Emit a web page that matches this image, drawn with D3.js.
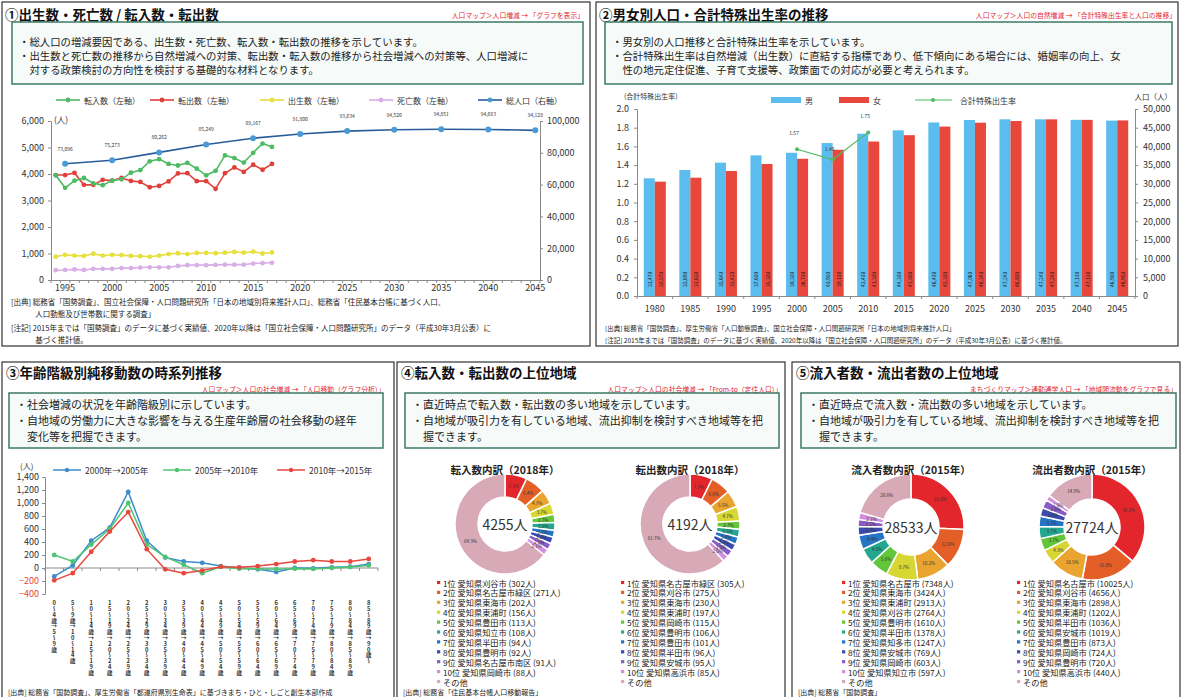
<!doctype html>
<html lang="ja">
<head>
  <meta charset="utf-8">
  <title>人口の推移と移動</title>
  <script src="https://d3js.org/d3.v7.min.js"></script>
  <style>
    body { margin: 0; background: #fff; }
    text { font-family: "Noto Sans CJK JP", "Noto Sans", sans-serif; }
  </style>
</head>
<body>
<svg id="chart" width="1182" height="697"></svg>
<script>
// ---------- ① 出生数・死亡数 / 転入数・転出数 ----------
var flowYears = [1994,1995,1996,1997,1998,1999,2000,2001,2002,2003,2004,2005,2006,2007,2008,2009,2010,2011,2012,2013,2014,2015,2016,2017];
var inMoves  = [3950,3480,3750,3850,3650,3580,3750,3800,4050,4150,4480,4560,4380,4320,4420,4200,3950,4120,4700,4600,4430,4800,5150,5020];
var outMoves = [3960,3960,4040,3590,3590,3780,3750,3850,3740,3700,3500,3550,3720,4020,4030,3730,3730,3440,4030,4250,4080,4350,4160,4380];
var births   = [880,950,920,910,990,920,950,940,910,900,880,920,980,1010,980,1020,1020,1010,1030,1060,1030,1070,1000,1040];
var deaths   = [370,380,400,380,420,420,420,450,450,470,480,480,480,530,560,560,560,570,580,580,580,620,640,650];
var popYears = [1995,2000,2005,2010,2015,2020,2025,2030,2035,2040,2045];
var totalPop = [73096,75273,80262,85249,89167,91800,93634,94520,94851,94683,94128];
var legend1  = ["転入数（左軸）","転出数（左軸）","出生数（左軸）","死亡数（左軸）","総人口（右軸）"];

// ---------- ② 男女別人口・合計特殊出生率 ----------
var barYears = [1980,1985,1990,1995,2000,2005,2010,2015,2020,2025,2030,2035,2040,2045];
var male     = [31470,33690,35640,37600,38300,40900,43400,44300,46400,47060,47240,47240,47100,46900];
var female   = [30570,31630,33420,35300,36700,39100,41300,43000,45300,46340,46800,47240,47100,46950];
var tfrYears = [2000,2005,2010];
var tfr      = [1.57,1.46,1.75];

// ---------- ③ 年齢階級別純移動数 ----------
var ageGroups = ["0～4歳→5～9歳","5～9歳→10～14歳","10～14歳→15～19歳","15～19歳→20～24歳","20～24歳→25～29歳",
  "25～29歳→30～34歳","30～34歳→35～39歳","35～39歳→40～44歳","40～44歳→45～49歳","45～49歳→50～54歳",
  "50～54歳→55～59歳","55～59歳→60～64歳","60～64歳→65～69歳","65～69歳→70～74歳","70～74歳→75～79歳",
  "75～79歳→80～84歳","80～84歳→85～89歳","85～89歳→90歳～"];
var mig0005 = [-130,40,420,620,1170,420,160,100,80,30,0,-20,-60,0,-5,10,20,60];
var mig0510 = [200,100,360,600,1000,360,170,50,-80,20,-10,-10,-20,-10,-15,0,15,40];
var mig1015 = [-190,-80,250,560,860,290,-20,-80,-40,20,10,30,60,100,120,100,100,140];
var migLabels = ["2000年→2005年","2005年→2010年","2010年→2015年"];

// ---------- ④ 転入数・転出数 ----------
var inTotal  = 4255;
var inNames  = ["愛知県刈谷市","愛知県名古屋市緑区","愛知県東海市","愛知県東浦町","愛知県豊田市","愛知県知立市","愛知県半田市","愛知県豊明市","愛知県名古屋市南区","愛知県岡崎市"];
var inCounts = [302,271,202,156,113,108,94,92,91,88];
var outTotal  = 4192;
var outNames  = ["愛知県名古屋市緑区","愛知県刈谷市","愛知県東海市","愛知県東浦町","愛知県岡崎市","愛知県豊明市","愛知県豊田市","愛知県半田市","愛知県安城市","愛知県高浜市"];
var outCounts = [305,275,230,197,115,106,101,96,95,85];

// ---------- ⑤ 流入者数・流出者数 ----------
var inflowTotal  = 28533;
var inflowNames  = ["愛知県名古屋市","愛知県東海市","愛知県東浦町","愛知県刈谷市","愛知県豊明市","愛知県半田市","愛知県知多市","愛知県安城市","愛知県岡崎市","愛知県知立市"];
var inflowCounts = [7348,3424,2913,2764,1610,1378,1247,769,603,597];
var outflowTotal  = 27724;
var outflowNames  = ["愛知県名古屋市","愛知県刈谷市","愛知県東海市","愛知県東浦町","愛知県半田市","愛知県安城市","愛知県豊田市","愛知県岡崎市","愛知県豊明市","愛知県高浜市"];
var outflowCounts = [10025,4656,2898,1202,1036,1019,873,724,720,440];

var pieColors = ["#e3262b","#e45f27","#e9a52f","#d8d633","#63c63a","#23a88f","#2675c4","#3a4bb0","#8a5cc8","#d48ee0","#d8a9b6"];

var svg = d3.select("#chart");
var fmt = d3.format(",");

function box(x, y, w, h) {
  svg.append("rect").attr("x", x).attr("y", y).attr("width", w).attr("height", h)
    .attr("fill", "none").attr("stroke", "#333").attr("stroke-width", 1.2);
}
function title(x, y, t, fs) {
  svg.append("text").attr("x", x).attr("y", y).attr("dominant-baseline", "central")
    .attr("font-size", fs).attr("font-weight", "bold").attr("fill", "#111").text(t);
}
function link(x, y, t) {
  svg.append("text").attr("x", x).attr("y", y).attr("dominant-baseline", "central")
    .attr("text-anchor", "end").attr("font-size", 6.8).attr("fill", "#e2242b").text(t);
}
function desc(x, y, w, h, lines, fs, y0, dy) {
  svg.append("rect").attr("x", x).attr("y", y).attr("width", w).attr("height", h)
    .attr("fill", "#f6fbf9").attr("stroke", "#3d7a66").attr("stroke-width", 1.5);
  lines.forEach(function(l, i) {
    svg.append("text").attr("x", x + 7).attr("y", y0 + i * dy).attr("dominant-baseline", "central")
      .attr("font-size", fs).attr("fill", "#222").text(l);
  });
}
function notes(x, y0, dy, lines, fs) {
  lines.forEach(function(l, i) {
    svg.append("text").attr("x", x).attr("y", y0 + i * dy).attr("dominant-baseline", "central")
      .attr("font-size", fs).attr("fill", "#222").text(l);
  });
}
function styleAxis(g, fs) {
  g.select(".domain").attr("stroke", "#8a8a8a");
  g.selectAll(".tick line").attr("stroke", "#8a8a8a");
  g.selectAll(".tick text").attr("fill", "#333").attr("font-size", fs);
}

// ================= panel 1 =================
box(2, 2, 588, 344);
title(5, 14, "①出生数・死亡数 / 転入数・転出数", 13.5);
link(584, 15, "人口マップ＞人口増減 → 「グラフを表示」");
desc(12, 22, 571, 62, [
  "・総人口の増減要因である、出生数・死亡数、転入数・転出数の推移を示しています。",
  "・出生数と死亡数の推移から自然増減への対策、転出数・転入数の推移から社会増減への対策等、人口増減に",
  "　対する政策検討の方向性を検討する基礎的な材料となります。"
], 10.4, 41, 14);

var x1 = d3.scaleBand().domain(d3.range(1994, 2046)).range([51, 540]);
var yL1 = d3.scaleLinear().domain([0, 6000]).range([280, 121]);
var yR1 = d3.scaleLinear().domain([0, 100000]).range([280, 121]);
function cx1(yr) { return x1(yr) + x1.bandwidth() / 2; }
var g1 = svg.append("g");

var ax = g1.append("g").attr("transform", "translate(51,0)")
  .call(d3.axisLeft(yL1).tickValues(d3.range(0, 6001, 1000)).tickFormat(fmt).tickSize(3).tickSizeOuter(0).tickPadding(4));
styleAxis(ax, 9);
ax = g1.append("g").attr("transform", "translate(540,0)")
  .call(d3.axisRight(yR1).tickValues(d3.range(0, 100001, 20000)).tickFormat(fmt).tickSize(3).tickSizeOuter(0).tickPadding(4));
styleAxis(ax, 9);
ax = g1.append("g").attr("transform", "translate(0,280)")
  .call(d3.axisBottom(x1).tickValues(d3.range(1995, 2046, 5)).tickSize(0).tickPadding(5));
styleAxis(ax, 9);
g1.selectAll(".yt1").data(d3.range(0, 53)).enter().append("line")
  .attr("x1", function(i) { return 51 + i * x1.step(); }).attr("x2", function(i) { return 51 + i * x1.step(); })
  .attr("y1", 280).attr("y2", 283).attr("stroke", "#8a8a8a");
g1.append("text").attr("x", 54).attr("y", 119).attr("font-size", 8.5).attr("fill", "#333")
  .attr("dominant-baseline", "central").text("(人)");

var series1 = [
  { values: deaths, color: "#d9aee6" },
  { values: births, color: "#e6e03c" },
  { values: outMoves, color: "#e0403a" },
  { values: inMoves, color: "#4dbb63" }
];
series1.forEach(function(s) {
  var pts = flowYears.map(function(yr, i) { return [cx1(yr), yL1(s.values[i])]; });
  g1.append("path").attr("d", d3.line()(pts)).attr("fill", "none").attr("stroke", s.color).attr("stroke-width", 1.6);
  g1.selectAll(null).data(pts).enter().append("circle")
    .attr("cx", function(d) { return d[0]; }).attr("cy", function(d) { return d[1]; })
    .attr("r", 2.4).attr("fill", s.color);
});
var popPts = popYears.map(function(yr, i) { return [cx1(yr), yR1(totalPop[i])]; });
g1.append("path").attr("d", d3.line()(popPts)).attr("fill", "none").attr("stroke", "#2a5c9a").attr("stroke-width", 1.6);
g1.selectAll(null).data(popPts).enter().append("circle")
  .attr("cx", function(d) { return d[0]; }).attr("cy", function(d) { return d[1]; })
  .attr("r", 3).attr("fill", "#4a9ad8");
g1.selectAll(null).data(popPts).enter().append("text")
  .attr("x", function(d) { return d[0]; }).attr("y", function(d) { return d[1] - 13; })
  .attr("text-anchor", "middle").attr("font-size", 5).attr("fill", "#333")
  .text(function(d, i) { return fmt(totalPop[i]); });

var leg1Colors = ["#4dbb63", "#e0403a", "#e6e03c", "#d9aee6", "#4a9ad8"];
var leg1X = [56, 150, 260, 369, 478];
legend1.forEach(function(t, i) {
  var lx = leg1X[i];
  g1.append("line").attr("x1", lx).attr("x2", lx + 24).attr("y1", 100).attr("y2", 100)
    .attr("stroke", i === 4 ? "#2a5c9a" : leg1Colors[i]).attr("stroke-width", 1.6);
  g1.append("circle").attr("cx", lx + 12).attr("cy", 100).attr("r", 2.4).attr("fill", leg1Colors[i]);
  g1.append("text").attr("x", lx + 28).attr("y", 100).attr("dominant-baseline", "central")
    .attr("font-size", 8).attr("fill", "#333").text(t);
});

notes(11, 301, 12, [
  "[出典] 総務省「国勢調査」、国立社会保障・人口問題研究所「日本の地域別将来推計人口」、総務省「住民基本台帳に基づく人口、",
  "　　　 人口動態及び世帯数に関する調査」"
], 7.5);
notes(11, 327, 12.5, [
  "[注記] 2015年までは「国勢調査」のデータに基づく実績値、2020年以降は「国立社会保障・人口問題研究所」のデータ（平成30年3月公表）に",
  "　　　 基づく推計値。"
], 7.5);

// ================= panel 2 =================
box(596, 2, 582, 344);
title(599, 14, "②男女別人口・合計特殊出生率の推移", 13.5);
link(1176, 15, "人口マップ＞人口の自然増減 → 「合計特殊出生率と人口の推移」");
desc(605, 22, 567, 62, [
  "・男女別の人口推移と合計特殊出生率を示しています。",
  "・合計特殊出生率は自然増減（出生数）に直結する指標であり、低下傾向にある場合には、婚姻率の向上、女",
  "　性の地元定住促進、子育て支援等、政策面での対応が必要と考えられます。"
], 10.4, 41, 14);

var x2 = d3.scaleBand().domain(barYears).range([637, 1135]).paddingInner(0.38).paddingOuter(0.19);
var xs2 = d3.scaleBand().domain(["男", "女"]).range([0, x2.bandwidth()]);
var yL2 = d3.scaleLinear().domain([0, 2]).range([296, 109]);
var yR2 = d3.scaleLinear().domain([0, 50000]).range([296, 109]);
var g2 = svg.append("g");

var sexes = [
  { key: "男", values: male, color: "#5bbcee" },
  { key: "女", values: female, color: "#e8473c" }
];
sexes.forEach(function(s) {
  g2.selectAll(null).data(barYears).enter().append("rect")
    .attr("x", function(d) { return x2(d) + xs2(s.key); })
    .attr("y", function(d, i) { return yR2(s.values[i]); })
    .attr("width", xs2.bandwidth())
    .attr("height", function(d, i) { return 296 - yR2(s.values[i]); })
    .attr("fill", s.color);
  g2.selectAll(null).data(barYears).enter().append("text")
    .attr("transform", function(d) {
      return "translate(" + (x2(d) + xs2(s.key) + xs2.bandwidth() / 2) + ",287) rotate(-90)";
    })
    .attr("dominant-baseline", "central").attr("font-size", 5).attr("fill", "#1a1a1a")
    .text(function(d, i) { return fmt(s.values[i]); });
});

ax = g2.append("g").attr("transform", "translate(637,0)")
  .call(d3.axisLeft(yL2).tickValues(d3.range(0, 11).map(function(i) { return i * 0.2; }))
    .tickFormat(d3.format(".1f")).tickSize(3).tickSizeOuter(0).tickPadding(5));
styleAxis(ax, 9);
ax = g2.append("g").attr("transform", "translate(1135,0)")
  .call(d3.axisRight(yR2).tickValues(d3.range(0, 50001, 5000)).tickFormat(fmt).tickSize(3).tickSizeOuter(0).tickPadding(5));
styleAxis(ax, 9);
ax = g2.append("g").attr("transform", "translate(0,296)")
  .call(d3.axisBottom(x2).tickSize(0).tickPadding(10));
styleAxis(ax, 9);
g2.selectAll(null).data(d3.range(0, 15)).enter().append("line")
  .attr("x1", function(i) { return 637 + i * x2.step(); }).attr("x2", function(i) { return 637 + i * x2.step(); })
  .attr("y1", 296).attr("y2", 299).attr("stroke", "#8a8a8a");

var tfrPts = tfrYears.map(function(yr, i) { return [x2(yr) + x2.bandwidth() / 2, yL2(tfr[i])]; });
g2.append("path").attr("d", d3.line()(tfrPts)).attr("fill", "none").attr("stroke", "#4dbb63").attr("stroke-width", 1.2);
g2.selectAll(null).data(tfrPts).enter().append("circle")
  .attr("cx", function(d) { return d[0]; }).attr("cy", function(d) { return d[1]; })
  .attr("r", 2).attr("fill", "#4dbb63");
g2.selectAll(null).data(tfrPts).enter().append("text")
  .attr("x", function(d) { return d[0] - 3; }).attr("y", function(d, i) { return d[1] - (i === 1 ? 8 : 14); })
  .attr("text-anchor", "middle").attr("font-size", 5).attr("fill", "#333")
  .text(function(d, i) { return tfr[i].toFixed(2); });

g2.append("text").attr("x", 624).attr("y", 96).attr("font-size", 7).attr("fill", "#333")
  .attr("dominant-baseline", "central").text("(合計特殊出生率)");
g2.append("text").attr("x", 1172).attr("y", 96).attr("font-size", 7.5).attr("fill", "#333")
  .attr("text-anchor", "end").attr("dominant-baseline", "central").text("人口（人）");
g2.append("rect").attr("x", 771).attr("y", 97).attr("width", 30).attr("height", 6).attr("fill", "#5bbcee");
g2.append("text").attr("x", 805).attr("y", 100).attr("font-size", 8).attr("fill", "#333").attr("dominant-baseline", "central").text("男");
g2.append("rect").attr("x", 839).attr("y", 97).attr("width", 30).attr("height", 6).attr("fill", "#e8473c");
g2.append("text").attr("x", 873).attr("y", 100).attr("font-size", 8).attr("fill", "#333").attr("dominant-baseline", "central").text("女");
g2.append("line").attr("x1", 915).attr("x2", 952).attr("y1", 100).attr("y2", 100).attr("stroke", "#4dbb63").attr("stroke-width", 1.2);
g2.append("circle").attr("cx", 933).attr("cy", 100).attr("r", 2).attr("fill", "#4dbb63");
g2.append("text").attr("x", 960).attr("y", 100).attr("font-size", 8).attr("fill", "#333").attr("dominant-baseline", "central").text("合計特殊出生率");

notes(605, 328, 12, [
  "[出典] 総務省「国勢調査」、厚生労働省「人口動態調査」、国立社会保障・人口問題研究所「日本の地域別将来推計人口」",
  "[注記] 2015年までは「国勢調査」のデータに基づく実績値、2020年以降は「国立社会保障・人口問題研究所」のデータ（平成30年3月公表）に基づく推計値。"
], 6.5);

// ================= panel 3 =================
box(2, 362, 392, 345);
title(6, 372, "③年齢階級別純移動数の時系列推移", 13.5);
link(385, 389, "人口マップ＞人口の社会増減 → 「人口移動（グラフ分析）」");
desc(9, 393, 374, 55, [
  "・社会増減の状況を年齢階級別に示しています。",
  "・自地域の労働力に大きな影響を与える生産年齢層の社会移動の経年",
  "　変化等を把握できます。"
], 11, 404, 16);

var x3 = d3.scaleBand().domain(ageGroups).range([45, 378]);
var y3 = d3.scaleLinear().domain([-400, 1400]).range([594, 477]);
var g3 = svg.append("g");
ax = g3.append("g").attr("transform", "translate(45,0)")
  .call(d3.axisLeft(y3).tickValues(d3.range(-400, 1401, 200)).tickFormat(fmt).tickSize(3).tickSizeOuter(0).tickPadding(3));
styleAxis(ax, 9);
ax.selectAll(".tick text").attr("fill", function(d) { return d < 0 ? "#e8473c" : "#333"; });
g3.append("line").attr("x1", 45).attr("x2", 378).attr("y1", y3(0)).attr("y2", y3(0)).attr("stroke", "#8a8a8a");
g3.selectAll(null).data(d3.range(0, 19)).enter().append("line")
  .attr("x1", function(i) { return 45 + i * x3.step(); }).attr("x2", function(i) { return 45 + i * x3.step(); })
  .attr("y1", y3(0)).attr("y2", y3(0) + 3).attr("stroke", "#8a8a8a");
g3.selectAll(null).data(ageGroups).enter().append("text")
  .attr("x", function(d) { return x3(d) + x3.bandwidth() / 2; }).attr("y", 600)
  .style("writing-mode", "vertical-rl").style("text-orientation", "upright")
  .attr("font-size", 5.8).attr("font-weight", "bold").attr("fill", "#333").text(function(d) { return d; });
g3.append("text").attr("x", 20).attr("y", 465).attr("font-size", 8).attr("fill", "#333")
  .attr("dominant-baseline", "central").text("(人)");

var series3 = [
  { values: mig0005, color: "#3c8dcb" },
  { values: mig0510, color: "#4fc472" },
  { values: mig1015, color: "#e8473e" }
];
series3.forEach(function(s, k) {
  var pts = ageGroups.map(function(a, i) { return [x3(a) + x3.bandwidth() / 2, y3(s.values[i])]; });
  g3.append("path").attr("d", d3.line()(pts)).attr("fill", "none").attr("stroke", s.color).attr("stroke-width", 1.5);
  g3.selectAll(null).data(pts).enter().append("circle")
    .attr("cx", function(d) { return d[0]; }).attr("cy", function(d) { return d[1]; })
    .attr("r", 2.4).attr("fill", s.color);
  var lx = [53, 163, 277][k];
  g3.append("line").attr("x1", lx).attr("x2", lx + 28).attr("y1", 470).attr("y2", 470).attr("stroke", s.color).attr("stroke-width", 1.5);
  g3.append("circle").attr("cx", lx + 14).attr("cy", 470).attr("r", 2.2).attr("fill", s.color);
  g3.append("text").attr("x", lx + 32).attr("y", 470).attr("font-size", 8.5).attr("fill", "#333")
    .attr("dominant-baseline", "central").text(migLabels[k]);
});
notes(8, 692, 12, ["[出典] 総務省「国勢調査」、厚生労働省「都道府県別生命表」に基づきまち・ひと・しごと創生本部作成"], 7);

// ================= donuts =================
function donut(cx, cy, r0, r1, counts, total, head, names, legendX) {
  var vals = counts.concat([total - d3.sum(counts)]);
  var arcs = d3.pie().sort(null)(vals);
  var arc = d3.arc().innerRadius(r0).outerRadius(r1);
  var g = svg.append("g").attr("transform", "translate(" + cx + "," + cy + ")");
  g.selectAll(null).data(arcs).enter().append("path")
    .attr("d", arc).attr("fill", function(d, i) { return pieColors[i]; })
    .attr("stroke", "#fff").attr("stroke-width", 1.5);
  g.selectAll(null).data(arcs).enter().append("text")
    .attr("transform", function(d) { return "translate(" + arc.centroid(d) + ")"; })
    .attr("text-anchor", "middle").attr("dominant-baseline", "central")
    .attr("font-size", 4.5).attr("fill", "#333")
    .text(function(d) { return (d.value / total * 100).toFixed(1) + "%"; });
  g.append("text").attr("text-anchor", "middle").attr("dominant-baseline", "central")
    .attr("font-size", 14).attr("fill", "#333").text(total + "人");
  svg.append("text").attr("x", cx).attr("y", 469).attr("text-anchor", "middle").attr("dominant-baseline", "central")
    .attr("font-size", 10.5).attr("font-weight", "bold").attr("fill", "#222").text(head);
  var items = names.map(function(n, i) { return (i + 1) + "位 " + n + " (" + counts[i] + "人)"; }).concat(["その他"]);
  items.forEach(function(t, i) {
    var ly = 582.5 + i * 9.9;
    svg.append("rect").attr("x", legendX).attr("y", ly - 1.6).attr("width", 3.2).attr("height", 3.2).attr("fill", pieColors[i]);
    svg.append("text").attr("x", legendX + 6).attr("y", ly).attr("dominant-baseline", "central")
      .attr("font-size", 8.2).attr("fill", "#222").text(t);
  });
}

// ================= panel 4 =================
box(397, 362, 388, 345);
title(401, 372, "④転入数・転出数の上位地域", 13.5);
link(782, 389, "人口マップ＞人口の社会増減 → 「From-to（定住人口）」");
desc(405, 393, 374, 55, [
  "・直近時点で転入数・転出数の多い地域を示しています。",
  "・自地域が吸引力を有している地域、流出抑制を検討すべき地域等を把",
  "　握できます。"
], 11, 404, 16);
donut(505, 524, 27, 50, inCounts, inTotal, "転入数内訳（2018年）", inNames, 437);
donut(690, 524, 27, 50, outCounts, outTotal, "転出数内訳（2018年）", outNames, 621);
notes(403, 692, 12, ["[出典] 総務省「住民基本台帳人口移動報告」"], 7);

// ================= panel 5 =================
box(792, 362, 388, 345);
title(796, 372, "⑤流入者数・流出者数の上位地域", 13.5);
link(1177, 389, "まちづくりマップ＞通勤通学人口 → 「地域間流動をグラフで見る」");
desc(801, 393, 375, 55, [
  "・直近時点で流入数・流出数の多い地域を示しています。",
  "・自地域が吸引力を有している地域、流出抑制を検討すべき地域等を把",
  "　握できます。"
], 11, 404, 16);
donut(911, 527, 28, 53, inflowCounts, inflowTotal, "流入者数内訳（2015年）", inflowNames, 842);
donut(1092, 527, 28, 53, outflowCounts, outflowTotal, "流出者数内訳（2015年）", outflowNames, 1017);
notes(798, 692, 12, ["[出典] 総務省「国勢調査」"], 7);
</script>
</body>
</html>
